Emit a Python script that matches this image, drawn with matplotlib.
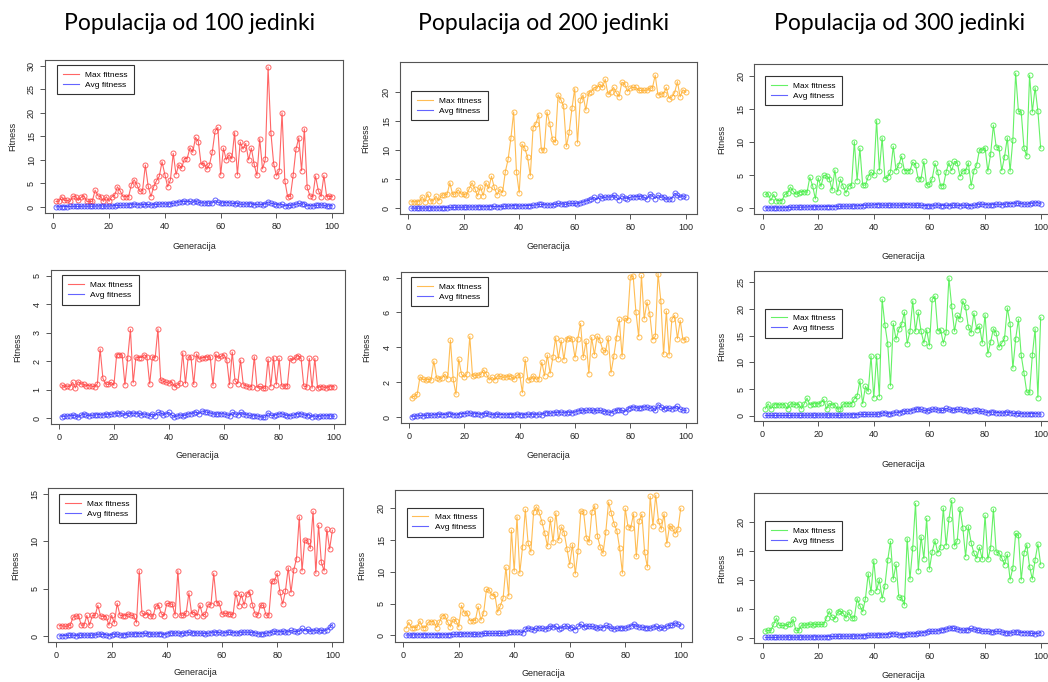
import numpy as np
import matplotlib.pyplot as plt
from matplotlib.lines import Line2D

plt.rcParams['font.family'] = ['Liberation Sans', 'DejaVu Sans']

gen = np.arange(1, 101)

# populacija 100
max_p100_r1 = [1.2, 1.2, 2.2, 1.4, 1.4, 1.2, 2.3, 2.2, 1.4, 2.1, 2.4, 1.2, 1.2, 1.2, 3.6, 2.4, 2.2, 1.2, 2.2, 1.2,
               2.2, 2.5, 4.3, 3.4, 2.2, 2.2, 2.2, 4.7, 5.8, 4.7, 3.3, 3.5, 8.9, 4.5, 2.2, 4.3, 5.6, 6.5, 9.6, 6.9,
               4.3, 5.8, 11.4, 6.9, 9.0, 8.2, 10.3, 10.3, 12.6, 11.6, 14.8, 13.9, 9.0, 9.4, 8.0, 9.0, 11.7, 16.1, 16.9, 6.8,
               12.5, 10.0, 11.1, 10.2, 15.8, 6.8, 13.8, 12.3, 13.5, 10.0, 12.5, 9.1, 6.7, 14.5, 8.1, 10.1, 29.7, 15.8, 9.2, 6.6,
               7.7, 20.0, 5.6, 2.2, 2.3, 6.8, 12.3, 14.7, 7.7, 16.6, 4.2, 2.4, 2.2, 6.6, 3.5, 2.2, 6.7, 2.2, 2.3, 2.2]
avg_p100_r1 = [0.05, 0.05, 0.08, 0.1, 0.1, 0.12, 0.15, 0.15, 0.12, 0.15, 0.2, 0.15, 0.18, 0.15, 0.2, 0.22, 0.25, 0.2, 0.2, 0.2,
               0.25, 0.3, 0.35, 0.35, 0.4, 0.4, 0.45, 0.5, 0.7, 0.5, 0.45, 0.55, 0.5, 0.55, 0.45, 0.5, 0.55, 0.6, 0.7, 0.65,
               0.6, 0.7, 0.8, 0.9, 1.1, 1.15, 1.2, 1.15, 1.2, 1.0, 1.3, 1.0, 0.9, 0.85, 0.9, 0.8, 0.9, 1.4, 1.0, 0.85,
               0.9, 0.95, 0.9, 0.8, 0.75, 0.8, 0.6, 0.55, 0.7, 0.6, 0.75, 0.5, 0.55, 0.6, 0.5, 0.7, 1.1, 0.8, 0.7, 0.5,
               0.45, 0.6, 0.3, 0.3, 0.35, 0.45, 0.6, 0.8, 0.6, 0.7, 0.3, 0.3, 0.25, 0.35, 0.4, 0.45, 0.35, 0.2, 0.25, 0.3]

max_p100_r2 = [1.17, 1.1, 1.13, 1.1, 1.26, 1.06, 1.28, 1.21, 1.18, 1.14, 1.14, 1.12, 1.1, 1.21, 2.43, 1.4, 1.2, 1.18, 1.26, 1.15,
               2.23, 2.23, 2.22, 1.17, 2.1, 3.12, 1.24, 2.15, 2.13, 2.13, 2.23, 2.16, 1.2, 2.16, 2.12, 3.14, 1.33, 1.29, 1.26, 1.22,
               1.28, 1.1, 1.17, 1.22, 2.3, 1.21, 2.15, 2.15, 1.18, 2.25, 2.07, 2.13, 2.13, 2.15, 2.15, 1.15, 2.25, 2.1, 2.18, 2.23,
               2.04, 1.17, 2.32, 1.31, 1.21, 2.04, 1.17, 1.14, 1.1, 1.1, 2.16, 1.07, 1.12, 1.07, 1.04, 2.08, 1.1, 2.13, 1.17, 2.1,
               1.12, 1.13, 1.13, 2.1, 2.04, 2.14, 2.2, 2.1, 1.12, 1.1, 2.1, 1.05, 2.1, 1.06, 1.1, 1.1, 1.06, 1.1, 1.1, 1.1]
avg_p100_r2 = [0.05, 0.06, 0.07, 0.08, 0.1, 0.08, 0.03, 0.1, 0.15, 0.1, 0.08, 0.1, 0.1, 0.12, 0.12, 0.1, 0.15, 0.12, 0.13, 0.15,
               0.18, 0.15, 0.18, 0.1, 0.18, 0.15, 0.18, 0.15, 0.18, 0.12, 0.15, 0.12, 0.08, 0.15, 0.08, 0.2, 0.18, 0.12, 0.15, 0.2,
               0.1, 0.05, 0.07, 0.12, 0.08, 0.1, 0.15, 0.15, 0.18, 0.2, 0.15, 0.25, 0.22, 0.2, 0.18, 0.15, 0.13, 0.15, 0.15, 0.15,
               0.12, 0.08, 0.2, 0.15, 0.1, 0.2, 0.15, 0.12, 0.1, 0.07, 0.08, 0.08, 0.05, 0.03, 0.03, 0.18, 0.1, 0.08, 0.12, 0.15,
               0.15, 0.12, 0.08, 0.08, 0.1, 0.12, 0.15, 0.15, 0.12, 0.08, 0.12, 0.05, 0.08, 0.04, 0.07, 0.08, 0.08, 0.08, 0.07, 0.06]

max_p100_r3 = [1.1, 1.07, 1.03, 1.03, 1.14, 2.0, 2.1, 2.14, 1.14, 1.14, 2.17, 1.14, 2.17, 2.17, 3.24, 2.1, 2.06, 2.06, 1.14, 2.2,
               1.35, 3.45, 2.2, 2.14, 2.14, 2.35, 2.2, 2.14, 1.39, 6.9, 2.42, 2.2, 2.49, 2.1, 2.1, 3.17, 3.24, 2.35, 2.14, 3.45,
               3.42, 3.35, 2.2, 6.9, 2.2, 2.2, 2.42, 4.56, 2.35, 2.56, 2.14, 3.27, 2.14, 2.35, 3.38, 3.31, 6.62, 3.52, 3.49, 2.28,
               2.42, 2.35, 2.31, 2.24, 4.56, 3.2, 4.41, 3.27, 4.48, 4.7, 3.31, 2.35, 2.2, 3.27, 3.24, 2.17, 2.24, 5.77, 5.84, 6.62,
               4.63, 3.38, 4.77, 7.22, 4.59, 6.98, 8.15, 12.6, 6.87, 10.18, 10.04, 9.25, 13.17, 6.62, 11.7, 7.79, 6.87, 11.3, 9.18, 11.17]
avg_p100_r3 = [0.02, 0.03, 0.05, 0.08, 0.08, 0.1, 0.05, 0.1, 0.08, 0.1, 0.1, 0.08, 0.1, 0.1, 0.2, 0.2, 0.15, 0.15, 0.05, 0.15,
               0.2, 0.2, 0.1, 0.1, 0.15, 0.2, 0.2, 0.2, 0.25, 0.25, 0.25, 0.3, 0.25, 0.2, 0.2, 0.2, 0.25, 0.25, 0.15, 0.25,
               0.35, 0.3, 0.3, 0.35, 0.25, 0.3, 0.35, 0.4, 0.3, 0.35, 0.3, 0.3, 0.3, 0.25, 0.3, 0.35, 0.45, 0.35, 0.4, 0.3,
               0.35, 0.4, 0.4, 0.35, 0.35, 0.3, 0.4, 0.4, 0.4, 0.4, 0.35, 0.35, 0.25, 0.2, 0.25, 0.3, 0.35, 0.4, 0.5, 0.45,
               0.45, 0.5, 0.4, 0.45, 0.6, 0.5, 0.45, 0.5, 0.8, 0.55, 0.7, 0.5, 0.55, 0.65, 0.5, 0.6, 0.55, 0.65, 0.9, 1.2]

# populacija 200
max_p200_r1 = [1.15, 1.15, 1.15, 1.15, 2.0, 1.15, 2.5, 1.3, 1.3, 2.1, 1.3, 2.3, 2.3, 2.4, 4.4, 2.4, 2.5, 3.2, 2.5, 2.4,
               2.3, 3.4, 4.4, 3.4, 2.1, 3.7, 2.2, 4.4, 3.4, 5.5, 3.6, 2.3, 3.3, 2.7, 6.3, 8.4, 12.0, 16.5, 6.3, 2.65,
               11.0, 10.3, 8.8, 5.6, 13.8, 14.5, 16.0, 10.0, 10.0, 16.5, 14.5, 11.8, 11.3, 19.4, 18.6, 17.5, 10.6, 13.0, 17.1, 20.5,
               11.2, 18.5, 19.4, 16.8, 19.7, 20.0, 20.7, 20.6, 21.3, 20.7, 22.1, 19.5, 20.0, 20.7, 19.8, 19.1, 21.6, 21.3, 20.0, 20.6,
               20.7, 20.7, 20.2, 20.2, 20.2, 20.2, 20.6, 20.6, 22.8, 19.4, 19.6, 19.6, 20.7, 18.8, 19.1, 19.8, 21.7, 19.1, 20.3, 19.9]
avg_p200_r1 = [0.05, 0.05, 0.05, 0.06, 0.06, 0.07, 0.08, 0.1, 0.1, 0.1, 0.12, 0.12, 0.15, 0.15, 0.18, 0.18, 0.2, 0.2, 0.2, 0.22,
               0.22, 0.25, 0.25, 0.25, 0.28, 0.28, 0.3, 0.3, 0.3, 0.3, 0.35, 0.3, 0.3, 0.35, 0.4, 0.4, 0.45, 0.5, 0.45, 0.4,
               0.45, 0.5, 0.5, 0.5, 0.55, 0.6, 0.7, 0.7, 0.65, 0.6, 0.6, 0.65, 0.7, 0.85, 0.8, 0.75, 0.7, 0.9, 0.85, 0.85,
               0.8, 1.0, 1.1, 1.3, 1.4, 1.6, 1.9, 1.5, 2.2, 1.8, 1.9, 2.0, 1.9, 2.3, 1.9, 1.5, 2.2, 1.8, 1.7, 1.9,
               2.0, 2.0, 2.1, 2.0, 1.9, 1.6, 2.4, 2.2, 1.7, 2.3, 1.9, 2.0, 1.6, 1.6, 1.7, 2.6, 2.3, 1.9, 2.2, 1.9]

max_p200_r2 = [1.12, 1.21, 1.31, 2.31, 2.17, 2.13, 2.17, 2.13, 3.21, 2.25, 2.17, 2.25, 2.46, 2.21, 4.42, 2.17, 1.31, 3.33, 2.46, 2.29,
               2.5, 4.63, 2.33, 2.4, 2.4, 2.46, 2.71, 2.46, 2.13, 2.29, 2.13, 2.37, 2.33, 2.29, 2.29, 2.37, 2.31, 2.17, 2.4, 2.44,
               1.4, 3.31, 2.13, 2.17, 2.37, 2.17, 2.21, 3.15, 2.37, 3.56, 2.5, 3.42, 4.56, 3.35, 4.4, 3.29, 4.5, 4.54, 4.46, 3.4,
               4.48, 5.37, 3.42, 4.37, 2.5, 4.58, 3.58, 4.65, 4.4, 3.87, 3.75, 4.56, 2.54, 3.48, 4.56, 5.6, 3.48, 5.69, 5.56, 8.04,
               8.1, 6.04, 4.62, 8.12, 5.63, 6.6, 5.92, 4.44, 4.63, 8.23, 6.67, 3.6, 6.08, 3.56, 5.62, 5.83, 4.5, 5.54, 4.42, 4.48]
avg_p200_r2 = [0.03, 0.05, 0.07, 0.1, 0.08, 0.1, 0.12, 0.1, 0.15, 0.12, 0.18, 0.15, 0.15, 0.18, 0.2, 0.15, 0.12, 0.15, 0.2, 0.2,
               0.22, 0.25, 0.18, 0.2, 0.2, 0.15, 0.2, 0.22, 0.18, 0.15, 0.12, 0.18, 0.15, 0.15, 0.12, 0.15, 0.15, 0.12, 0.18, 0.15,
               0.12, 0.15, 0.18, 0.15, 0.18, 0.15, 0.18, 0.15, 0.25, 0.25, 0.22, 0.25, 0.28, 0.25, 0.3, 0.25, 0.25, 0.3, 0.25, 0.3,
               0.35, 0.4, 0.35, 0.38, 0.42, 0.38, 0.35, 0.4, 0.38, 0.35, 0.3, 0.3, 0.25, 0.35, 0.4, 0.42, 0.38, 0.32, 0.45, 0.55,
               0.6, 0.55, 0.5, 0.55, 0.6, 0.58, 0.5, 0.55, 0.38, 0.72, 0.6, 0.45, 0.55, 0.5, 0.48, 0.55, 0.62, 0.45, 0.4, 0.38]

max_p200_r3 = [1.06, 2.06, 1.22, 1.22, 1.27, 2.28, 1.22, 1.22, 2.06, 2.17, 2.17, 1.22, 2.06, 3.12, 3.12, 2.12, 1.32, 2.59, 2.28, 1.32,
               4.71, 3.49, 3.54, 2.33, 2.33, 2.38, 4.55, 2.38, 3.6, 7.25, 7.14, 6.24, 6.5, 3.65, 4.66, 5.87, 10.74, 6.19, 16.56, 10.1,
               18.68, 9.79, 13.9, 19.84, 14.55, 13.12, 19.47, 20.26, 19.37, 17.88, 16.14, 14.02, 18.3, 14.71, 19.31, 14.97, 17.09, 16.19, 13.65, 11.16,
               14.29, 9.68, 13.33, 19.63, 19.42, 15.4, 14.66, 19.47, 20.42, 15.61, 13.92, 12.91, 16.3, 21.0, 19.26, 17.57, 16.46, 13.7, 9.79, 20.0,
               17.14, 16.98, 19.15, 12.43, 17.99, 19.1, 13.07, 10.74, 21.9, 17.3, 22.1, 18.04, 16.72, 19.15, 14.44, 17.3, 16.88, 15.98, 16.72, 20.0]
avg_p200_r3 = [0.05, 0.05, 0.05, 0.08, 0.08, 0.1, 0.1, 0.08, 0.1, 0.1, 0.12, 0.1, 0.1, 0.08, 0.1, 0.1, 0.12, 0.15, 0.15, 0.18,
               0.2, 0.25, 0.25, 0.25, 0.2, 0.15, 0.2, 0.25, 0.3, 0.3, 0.3, 0.3, 0.3, 0.3, 0.3, 0.3, 0.35, 0.5, 0.55, 0.55,
               0.5, 0.6, 0.4, 1.0, 1.2, 1.0, 0.9, 1.1, 1.2, 1.1, 1.0, 1.1, 1.5, 1.3, 1.4, 1.0, 1.2, 1.4, 1.5, 1.1,
               1.3, 0.9, 1.4, 1.8, 1.3, 1.5, 1.4, 1.4, 1.3, 1.1, 1.3, 1.2, 1.6, 1.4, 1.1, 1.0, 1.1, 1.2, 1.2, 1.1,
               1.3, 1.5, 1.8, 1.5, 1.3, 1.3, 1.2, 1.2, 1.1, 1.3, 1.5, 1.1, 1.3, 1.1, 1.5, 1.6, 1.6, 2.0, 1.8, 1.5]

# populacija 300
max_p300_r1 = [2.1, 2.2, 1.15, 2.1, 1.15, 1.15, 1.15, 2.1, 2.25, 3.2, 2.6, 2.1, 2.3, 2.5, 2.5, 2.4, 4.7, 3.4, 1.4, 4.6,
               3.3, 5.0, 4.9, 4.5, 2.7, 5.8, 2.5, 4.4, 3.3, 2.3, 3.4, 3.5, 10.1, 4.2, 9.1, 3.5, 3.5, 4.8, 5.5, 5.0,
               13.3, 5.7, 10.7, 4.5, 4.7, 5.5, 9.4, 5.7, 6.6, 7.9, 5.7, 5.7, 5.7, 7.0, 6.6, 4.4, 4.5, 7.1, 3.5, 3.6,
               4.5, 6.8, 5.5, 3.4, 3.4, 5.5, 6.9, 5.7, 7.1, 6.9, 4.8, 5.7, 5.7, 6.9, 3.4, 5.7, 6.6, 8.9, 8.8, 9.2,
               5.6, 8.2, 12.6, 9.3, 9.2, 5.7, 7.8, 10.7, 5.6, 10.4, 20.5, 14.7, 14.6, 9.1, 7.9, 20.2, 14.6, 18.3, 14.7, 9.1]
avg_p300_r1 = [0.05, 0.05, 0.05, 0.05, 0.05, 0.05, 0.05, 0.08, 0.1, 0.12, 0.12, 0.12, 0.15, 0.15, 0.15, 0.18, 0.2, 0.2, 0.2, 0.22,
               0.22, 0.25, 0.25, 0.25, 0.25, 0.25, 0.28, 0.28, 0.3, 0.3, 0.3, 0.3, 0.35, 0.35, 0.4, 0.4, 0.45, 0.45, 0.45, 0.5,
               0.55, 0.5, 0.45, 0.45, 0.45, 0.45, 0.5, 0.45, 0.45, 0.45, 0.5, 0.55, 0.5, 0.45, 0.45, 0.45, 0.45, 0.4, 0.4, 0.35,
               0.35, 0.45, 0.5, 0.4, 0.4, 0.45, 0.4, 0.45, 0.45, 0.45, 0.4, 0.45, 0.45, 0.4, 0.4, 0.45, 0.5, 0.6, 0.6, 0.55,
               0.5, 0.5, 0.55, 0.6, 0.6, 0.55, 0.6, 0.65, 0.7, 0.7, 0.8, 0.75, 0.7, 0.6, 0.6, 0.7, 0.75, 0.8, 0.85, 0.65]

max_p300_r2 = [1.3, 2.25, 1.3, 2.05, 2.05, 2.05, 2.05, 2.05, 1.3, 2.2, 2.2, 2.05, 2.2, 1.3, 2.25, 3.3, 2.05, 2.25, 2.25, 2.2,
               2.45, 3.05, 1.25, 2.3, 2.05, 2.05, 1.25, 1.3, 2.2, 2.25, 2.25, 2.25, 3.2, 3.7, 6.55, 2.25, 5.5, 4.55, 11.2, 3.35,
               11.2, 3.55, 21.8, 17.0, 13.5, 5.6, 17.3, 14.3, 16.2, 17.1, 19.4, 13.5, 15.8, 21.5, 15.8, 19.4, 15.8, 13.6, 16.1, 13.1,
               21.8, 22.4, 15.9, 16.1, 13.6, 15.6, 25.8, 20.5, 15.8, 18.8, 18.1, 21.5, 20.3, 16.6, 15.5, 19.2, 16.1, 16.8, 13.6, 18.9,
               11.6, 13.8, 16.3, 15.5, 12.8, 13.6, 14.5, 20.2, 17.2, 8.9, 14.4, 18.1, 11.3, 8.0, 4.4, 4.4, 11.3, 16.3, 3.4, 18.4]
avg_p300_r2 = [0.05, 0.05, 0.05, 0.05, 0.05, 0.05, 0.05, 0.05, 0.05, 0.05, 0.08, 0.08, 0.08, 0.08, 0.08, 0.1, 0.1, 0.1, 0.1, 0.12,
               0.12, 0.12, 0.12, 0.12, 0.12, 0.1, 0.05, 0.1, 0.1, 0.15, 0.15, 0.15, 0.2, 0.2, 0.25, 0.25, 0.25, 0.25, 0.25, 0.25,
               0.3, 0.3, 0.5, 0.6, 0.4, 0.35, 0.5, 0.7, 0.6, 0.75, 0.9, 0.8, 0.9, 1.1, 1.2, 1.3, 1.2, 1.0, 0.9, 1.0,
               1.2, 1.3, 1.1, 1.0, 1.0, 1.4, 1.2, 1.0, 1.1, 1.2, 1.2, 1.1, 1.0, 0.9, 0.9, 1.0, 1.0, 0.8, 0.8, 0.7,
               0.6, 0.7, 0.7, 0.6, 0.6, 0.5, 0.55, 0.7, 0.6, 0.45, 0.4, 0.45, 0.4, 0.35, 0.35, 0.4, 0.4, 0.4, 0.35, 0.3]

max_p300_r3 = [1.15, 1.26, 1.26, 2.3, 3.39, 2.13, 2.13, 2.07, 2.3, 2.41, 3.22, 1.26, 1.26, 2.18, 2.18, 2.18, 2.41, 2.18, 2.3, 2.3,
               2.3, 2.3, 3.45, 4.6, 3.56, 3.28, 4.43, 4.6, 4.25, 3.39, 4.48, 3.39, 3.45, 6.78, 5.52, 4.48, 6.78, 11.09, 7.82, 13.33,
               8.16, 10.06, 6.78, 9.02, 13.39, 16.67, 10.11, 12.7, 7.01, 6.9, 5.63, 17.13, 10.11, 15.57, 23.22, 11.61, 17.47, 13.68, 20.63, 11.84,
               14.89, 16.78, 14.66, 15.63, 22.41, 15.92, 20.46, 23.74, 15.86, 16.78, 22.3, 19.02, 14.02, 19.2, 16.44, 14.6, 13.68, 15.63, 13.56, 21.15,
               13.56, 15.52, 22.24, 14.83, 14.66, 13.79, 12.64, 14.43, 10.0, 12.07, 18.05, 17.7, 10.0, 14.6, 16.09, 12.3, 10.11, 13.51, 16.21, 12.64]
avg_p300_r3 = [0.05, 0.05, 0.05, 0.05, 0.05, 0.1, 0.1, 0.12, 0.12, 0.1, 0.1, 0.08, 0.1, 0.12, 0.12, 0.1, 0.12, 0.15, 0.15, 0.15,
               0.15, 0.18, 0.2, 0.2, 0.22, 0.22, 0.25, 0.25, 0.28, 0.25, 0.25, 0.28, 0.3, 0.3, 0.35, 0.35, 0.35, 0.4, 0.45, 0.45,
               0.45, 0.5, 0.5, 0.55, 0.55, 0.7, 0.7, 0.6, 0.5, 0.5, 0.55, 0.6, 0.65, 0.7, 0.7, 0.75, 0.85, 0.9, 1.0, 1.1,
               1.1, 1.1, 1.2, 1.3, 1.4, 1.5, 1.7, 1.7, 1.6, 1.5, 1.4, 1.3, 1.3, 1.4, 1.6, 1.5, 1.3, 1.3, 1.1, 1.1,
               1.1, 1.0, 1.0, 1.1, 1.1, 1.0, 0.9, 0.8, 0.8, 0.95, 1.0, 1.0, 0.9, 0.9, 0.85, 0.8, 0.75, 0.7, 0.75, 0.9]

titles = ['Populacija od 100 jedinki', 'Populacija od 200 jedinki', 'Populacija od 300 jedinki']
legend_labels = ['Max fitness', 'Avg fitness']

RED = '#ff4040'
ORANGE = '#ffad2a'
GREEN = '#40ee40'
BLUE = '#3030ff'

W, H = 1048, 682
fig = plt.figure(figsize=(W / 100, H / 100), dpi=100)


def add_axes_px(x0, y0, x1, y1):
    # pozicija u pikselima, y od vrha slike
    return fig.add_axes([x0 / W, 1 - y1 / H, (x1 - x0) / W, (y1 - y0) / H])


def panel(box, max_vals, avg_vals, color, ylim, ytop, ystep, leg_xy, xlab_gap=32, ylab_gap=33):
    ax = add_axes_px(*box)
    w_px, h_px = box[2] - box[0], box[3] - box[1]
    ax.plot(gen, max_vals, '-o', color=color, lw=0.8, ms=3.6, mfc='none', mew=0.7, alpha=0.8)
    ax.plot(gen, avg_vals, '-o', color=BLUE, lw=0.8, ms=3.6, mfc='none', mew=0.7, alpha=0.75)
    ax.set_xlim(-2.96, 103.96)
    ax.set_ylim(*ylim)
    ax.set_xticks(range(0, 101, 20))
    ax.set_yticks(np.arange(0, ytop + 0.01, ystep))
    for s in ax.spines.values():
        s.set_color('#555555')
        s.set_linewidth(0.8)
    ax.tick_params(length=3.5, width=0.7, color='#555555', labelsize=6.5, labelcolor='#222222', pad=3)
    ax.tick_params(axis='y', labelrotation=90)
    for lab in ax.get_yticklabels():
        lab.set_va('center')
    ax.set_xlabel('Generacija', fontsize=6.5, color='#222222', va='center')
    ax.set_ylabel('Fitness', fontsize=6.5, color='#222222', va='center')
    ax.xaxis.set_label_coords(0.5, -xlab_gap / h_px)
    ax.yaxis.set_label_coords(-ylab_gap / w_px, 0.5)
    handles = [Line2D([], [], color=color, lw=0.8, alpha=0.8),
               Line2D([], [], color=BLUE, lw=0.8, alpha=0.75)]
    leg = ax.legend(handles, legend_labels, loc='upper left', bbox_to_anchor=leg_xy, borderaxespad=0,
                    fontsize=6, frameon=True, fancybox=False, edgecolor='#333333', framealpha=1,
                    handlelength=1.9, handletextpad=0.8, borderpad=0.7, labelspacing=0.25)
    leg.get_frame().set_linewidth(0.8)
    return ax


panel((45, 60, 343.3, 212.7), max_p100_r1, avg_p100_r1, RED, (-1.2, 31.2), 30, 5, (0.040, 0.967), 34, 32)
panel((400, 62.3, 696.7, 214.3), max_p200_r1, avg_p200_r1, ORANGE, (-1.0, 25.0), 20, 5, (0.037, 0.811), 32, 34)
panel((754.3, 64.3, 1051.7, 213.7), max_p300_r1, avg_p300_r1, GREEN, (-0.84, 21.84), 20, 5, (0.036, 0.922), 43, 33)

panel((50.7, 270.3, 345, 423.7), max_p100_r2, avg_p100_r2, RED, (-0.2, 5.2), 5, 1, (0.038, 0.967), 32, 33)
panel((400.7, 272, 696.7, 422.7), max_p200_r2, avg_p200_r2, ORANGE, (-0.32, 8.32), 8, 2, (0.035, 0.967), 33, 34)
panel((754.3, 271.3, 1051.7, 421.3), max_p300_r2, avg_p300_r2, GREEN, (-1.04, 27.04), 25, 5, (0.036, 0.751), 43, 33)

panel((48.3, 488.3, 343.3, 641.7), max_p100_r3, avg_p100_r3, RED, (-0.6, 15.6), 15, 5, (0.036, 0.963), 31, 33)
panel((395, 490, 691.7, 641.7), max_p200_r3, avg_p200_r3, ORANGE, (-1.0, 22.9), 20, 5, (0.039, 0.883), 32, 33)
panel((754.3, 493.3, 1051.7, 643.3), max_p300_r3, avg_p300_r3, GREEN, (-0.96, 24.96), 20, 5, (0.036, 0.815), 32, 33)

for cx, t in zip([189, 544, 900], titles):
    fig.text(cx / W, 1 - 30 / H, t, fontsize=16.5, family=['Lato', 'DejaVu Sans'], ha='center', va='baseline')

fig.savefig('out.png', dpi=100)
